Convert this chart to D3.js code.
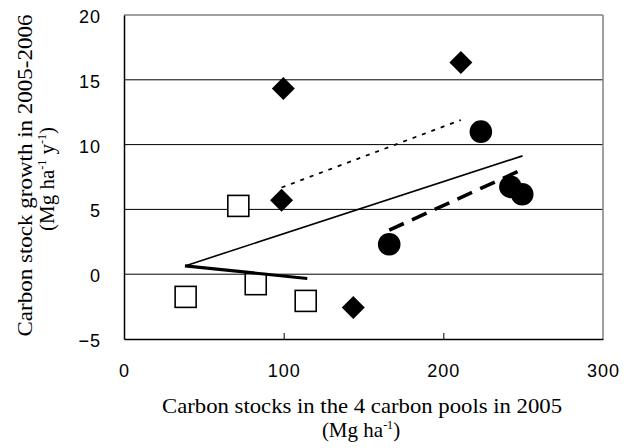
<!DOCTYPE html>
<html><head><meta charset="utf-8">
<script src="https://cdn.jsdelivr.net/npm/d3@7"></script>
<style>body{margin:0;background:#fff}svg{display:block}</style>
</head><body>
<svg id="c" width="630" height="448"></svg>
<script>
// Data
const xTicks = [0, 100, 200, 300];
const yTicks = [-5, 0, 5, 10, 15, 20];
const squareX = [38.6, 82.5, 113.8, 71.6];
const squareY = [-1.75, -0.77, -2.06, 5.27];
const diamondX = [99.8, 98.7, 211, 143.6];
const diamondY = [14.33, 5.71, 16.33, -2.57];
const circleX = [223.5, 242, 249.4, 166.1];
const circleY = [11.0, 6.74, 6.17, 2.31];
const allFitX = [38.2, 249.6], allFitY = [0.64, 9.13];
const squareFitX = [38.2, 114.8], squareFitY = [0.64, -0.33];
const diamondFitX = [98.7, 211], diamondFitY = [6.69, 11.9];
const circleFitX = [166.1, 249], circleFitY = [3.4, 8.05];

const svg = d3.select("#c");
const L = 124, R = 603, T = 15, B = 339;
const x = d3.scaleLinear().domain([0, 300]).range([L, R]);
const y = d3.scaleLinear().domain([-5, 20]).range([B, T]);

// gridlines
svg.append("g").selectAll("line").data(yTicks.filter(v => v > -5 && v < 20)).join("line")
  .attr("x1", L).attr("x2", R).attr("y1", d => y(d)).attr("y2", d => y(d))
  .attr("stroke", "#000").attr("stroke-width", 1);

// frame top/right gray
svg.append("line").attr("x1", L).attr("x2", R).attr("y1", T).attr("y2", T).attr("stroke", "#808080").attr("stroke-width", 1.5);
svg.append("line").attr("x1", R).attr("x2", R).attr("y1", T).attr("y2", B).attr("stroke", "#808080").attr("stroke-width", 1.5);

const sans = "Liberation Sans, Arial, sans-serif";
// axes
const xAxis = d3.axisBottom(x).tickValues(xTicks).tickSizeInner(-6).tickSizeOuter(0).tickPadding(25).tickFormat(d3.format("d"));
const gx = svg.append("g").attr("transform", `translate(0,${B})`).call(xAxis);
gx.select(".domain").attr("stroke", "#000").attr("stroke-width", 1.5);
gx.selectAll(".tick line").attr("stroke", "#000").attr("stroke-width", 1);
gx.selectAll(".tick text").attr("font-family", sans).attr("font-size", 18).attr("letter-spacing", 1).attr("fill", "#000");
gx.selectAll(".tick").filter(d => d === 0 || d === 300).select("line").remove();

const yAxis = d3.axisLeft(y).tickValues(yTicks).tickSize(0).tickPadding(23).tickFormat(d => d < 0 ? "\u2212" + Math.abs(d) : d);
const gy = svg.append("g").attr("transform", `translate(${L},0)`).call(yAxis);
gy.select(".domain").attr("stroke", "#000").attr("stroke-width", 1.5);
gy.selectAll(".tick text").attr("font-family", sans).attr("font-size", 18).attr("letter-spacing", 1).attr("dy", "0.42em").attr("fill", "#000");

// markers
const sq = 21;
svg.append("g").selectAll("rect").data(squareX.map((v, i) => [v, squareY[i]])).join("rect")
  .attr("x", d => x(d[0]) - sq / 2).attr("y", d => y(d[1]) - sq / 2)
  .attr("width", sq).attr("height", sq).attr("fill", "#fff").attr("stroke", "#000").attr("stroke-width", 1.6);
const dr = 11.5;
svg.append("g").selectAll("path").data(diamondX.map((v, i) => [v, diamondY[i]])).join("path")
  .attr("d", d => { const cx = x(d[0]), cy = y(d[1]); return `M${cx},${cy - dr}L${cx + dr},${cy}L${cx},${cy + dr}L${cx - dr},${cy}Z`; })
  .attr("fill", "#000");
svg.append("g").selectAll("circle").data(circleX.map((v, i) => [v, circleY[i]])).join("circle")
  .attr("cx", d => x(d[0])).attr("cy", d => y(d[1])).attr("r", 11.3).attr("fill", "#000");

// trend lines
function fit(xs, ys, w, dash) {
  svg.append("line").attr("x1", x(xs[0])).attr("y1", y(ys[0])).attr("x2", x(xs[1])).attr("y2", y(ys[1]))
    .attr("stroke", "#000").attr("stroke-width", w).attr("stroke-dasharray", dash || null).attr("stroke-linecap", "butt");
}
fit(allFitX, allFitY, 1.6);
fit(squareFitX, squareFitY, 3.2);
fit(diamondFitX, diamondFitY, 1.8, "4,6");
fit(circleFitX, circleFitY, 3.6, "16,9");

// titles
const serif = "Liberation Serif, Times New Roman, serif";
const fs = 21;
svg.append("text").attr("x", 362).attr("y", 413).attr("text-anchor", "middle")
  .attr("font-family", serif).attr("font-size", fs).attr("fill", "#000")
  .attr("textLength", 400).attr("lengthAdjust", "spacingAndGlyphs")
  .text("Carbon stocks in the 4 carbon pools in 2005");
const xt2 = svg.append("text").attr("x", 361).attr("y", 437).attr("text-anchor", "middle")
  .attr("font-family", serif).attr("font-size", fs).attr("fill", "#000");
xt2.append("tspan").text("(Mg ha");
xt2.append("tspan").attr("font-size", 12).attr("dy", -8).text("-1");
xt2.append("tspan").attr("dy", 8).text(")");

svg.append("text").attr("transform", "translate(32,175.5) rotate(-90)").attr("text-anchor", "middle")
  .attr("font-family", serif).attr("font-size", fs).attr("fill", "#000")
  .attr("textLength", 322).attr("lengthAdjust", "spacingAndGlyphs")
  .text("Carbon stock growth in 2005-2006");
const yt2 = svg.append("text").attr("transform", "translate(54,179) rotate(-90)").attr("text-anchor", "middle")
  .attr("font-family", serif).attr("font-size", fs).attr("fill", "#000");
yt2.append("tspan").text("(Mg ha");
yt2.append("tspan").attr("font-size", 12).attr("dy", -8).text("-1");
yt2.append("tspan").attr("dy", 8).text(" y");
yt2.append("tspan").attr("font-size", 12).attr("dy", -8).text("-1");
yt2.append("tspan").attr("dy", 8).text(")");
</script>
</body></html>
